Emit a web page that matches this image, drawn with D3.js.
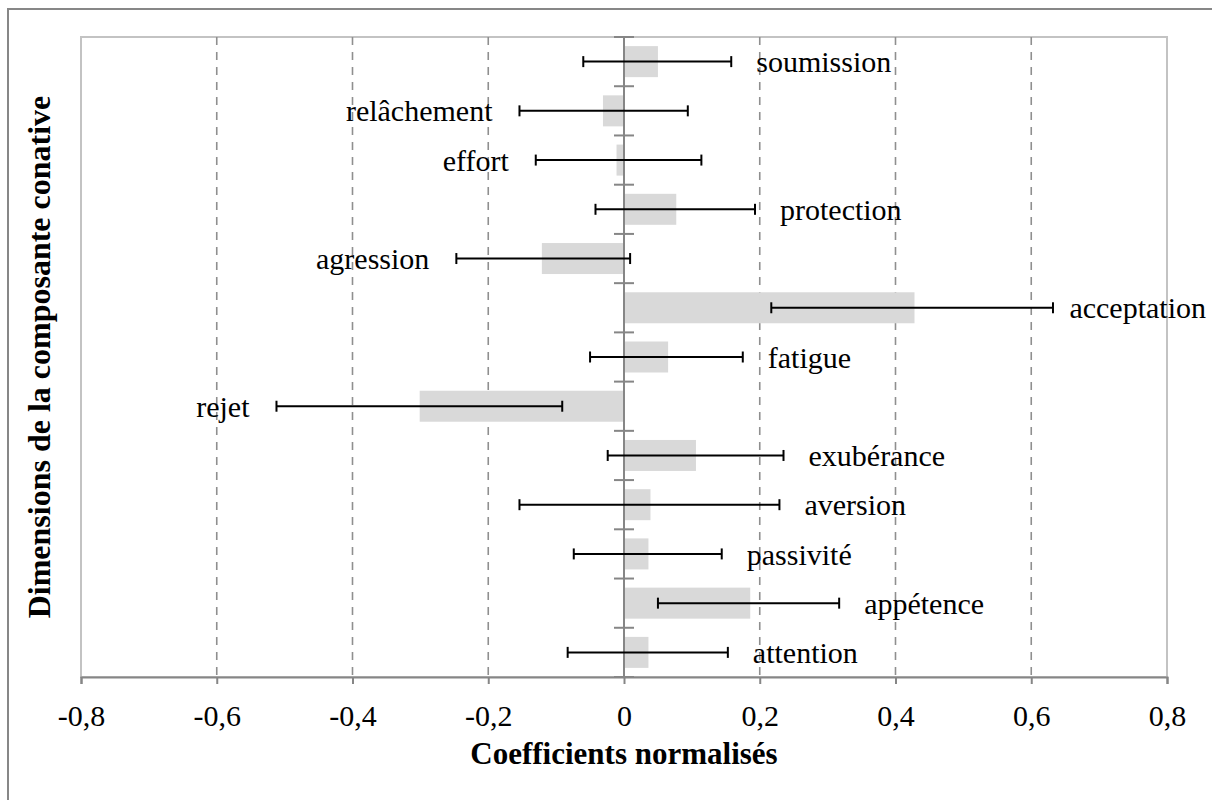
<!DOCTYPE html>
<html>
<head>
<meta charset="utf-8">
<script src="https://cdn.jsdelivr.net/npm/d3@7"></script>
<style>
  html, body { margin: 0; padding: 0; background: #fff; }
  svg { display: block; font-family: "Liberation Serif", "Times New Roman", serif; }
</style>
</head>
<body>
<svg id="chart" width="1212" height="800"></svg>
<script>
// ---- data ----
const categories = ["soumission", "relâchement", "effort", "protection", "agression", "acceptation",
  "fatigue", "rejet", "exubérance", "aversion", "passivité", "appétence", "attention"];
const coefficients = [0.050, -0.031, -0.011, 0.077, -0.121, 0.428, 0.065, -0.301, 0.106, 0.039, 0.036, 0.186, 0.036];
const ciLow  = [-0.060, -0.154, -0.130, -0.042, -0.247, 0.217, -0.050, -0.512, -0.024, -0.154, -0.074, 0.050, -0.083];
const ciHigh = [0.158, 0.094, 0.114, 0.193, 0.009, 0.632, 0.175, -0.091, 0.235, 0.229, 0.144, 0.317, 0.153];
const xTicks = [-0.8, -0.6, -0.4, -0.2, 0, 0.2, 0.4, 0.6, 0.8];
const xTickLabels = ["-0,8", "-0,6", "-0,4", "-0,2", "0", "0,2", "0,4", "0,6", "0,8"];
const xTitle = "Coefficients normalisés";
const yTitle = "Dimensions de la composante conative";

// ---- layout ----
const svg = d3.select("#chart");
const W = 1212;
const plot = { left: 81, right: 1167, top: 37, bottom: 677 };

const x = d3.scaleLinear().domain([-0.8, 0.8]).range([plot.left, plot.right]);
const y = d3.scaleBand().domain(categories).range([plot.top, plot.bottom])
  .paddingInner(0.37).paddingOuter(0.185);

const rows = categories.map((c, i) => ({ cat: c, v: coefficients[i], lo: ciLow[i], hi: ciHigh[i] }));

// outer chart border (right/bottom edges fall outside the view)
svg.append("rect")
  .attr("x", 8).attr("y", 9).attr("width", 1240).attr("height", 840)
  .attr("fill", "none").attr("stroke", "#878787").attr("stroke-width", 2);

// plot area border
svg.append("rect")
  .attr("x", plot.left).attr("y", plot.top)
  .attr("width", plot.right - plot.left).attr("height", plot.bottom - plot.top)
  .attr("fill", "none").attr("stroke", "#c3c3c3").attr("stroke-width", 2);

// dashed gridlines
svg.append("g").selectAll("line")
  .data(xTicks.filter(t => t !== 0 && Math.abs(t) !== 0.8))
  .join("line")
  .attr("x1", d => x(d)).attr("x2", d => x(d))
  .attr("y1", plot.top).attr("y2", plot.bottom)
  .attr("stroke", "#8f8f8f").attr("stroke-width", 1.6)
  .attr("stroke-dasharray", "8,7");

// bars
svg.append("g").selectAll("rect")
  .data(rows)
  .join("rect")
  .attr("x", d => x(Math.min(0, d.v)))
  .attr("width", d => Math.abs(x(d.v) - x(0)))
  .attr("y", d => y(d.cat))
  .attr("height", y.bandwidth())
  .attr("fill", "#d9d9d9");

// x axis
const xAxis = d3.axisBottom(x).tickValues(xTicks)
  .tickFormat((d, i) => xTickLabels[i]).tickSize(7);
const gx = svg.append("g").attr("transform", `translate(0,${plot.bottom})`).call(xAxis);
gx.select(".domain").attr("stroke", "#868686").attr("stroke-width", 2);
gx.selectAll(".tick line").attr("stroke", "#868686").attr("stroke-width", 2);
gx.selectAll(".tick text")
  .attr("font-family", "Liberation Serif, Times New Roman, serif")
  .attr("font-size", 30).attr("fill", "#000")
  .attr("y", 49).attr("dy", 0);

// y axis at zero with crossing ticks at category boundaries
const boundaries = categories.map(c => y(c) - y.step() * y.paddingInner() / 2)
  .concat([plot.bottom]);
svg.append("line")
  .attr("x1", x(0)).attr("x2", x(0)).attr("y1", plot.top).attr("y2", plot.bottom)
  .attr("stroke", "#868686").attr("stroke-width", 2);
svg.append("g").selectAll("line")
  .data(boundaries)
  .join("line")
  .attr("x1", x(0) - 10).attr("x2", x(0) + 10)
  .attr("y1", d => d).attr("y2", d => d)
  .attr("stroke", "#868686").attr("stroke-width", 2);

// error bars
const eb = svg.append("g").attr("stroke", "#000").attr("stroke-width", 2);
const cy = d => y(d.cat) + y.bandwidth() / 2;
eb.selectAll("line.h").data(rows).join("line").attr("class", "h")
  .attr("x1", d => x(d.lo)).attr("x2", d => x(d.hi))
  .attr("y1", cy).attr("y2", cy);
eb.selectAll("line.l").data(rows).join("line").attr("class", "l")
  .attr("x1", d => x(d.lo)).attr("x2", d => x(d.lo))
  .attr("y1", d => cy(d) - 5.5).attr("y2", d => cy(d) + 5.5);
eb.selectAll("line.r").data(rows).join("line").attr("class", "r")
  .attr("x1", d => x(d.hi)).attr("x2", d => x(d.hi))
  .attr("y1", d => cy(d) - 5.5).attr("y2", d => cy(d) + 5.5);

// category labels (placed beyond the error-bar end; kept inside the frame)
svg.append("g").selectAll("text")
  .data(rows)
  .join("text")
  .attr("y", d => cy(d) + 1)
  .attr("dy", "0.32em")
  .attr("text-anchor", d => d.v >= 0 ? "start" : "end")
  .attr("font-size", 30).attr("fill", "#000")
  .text(d => d.cat)
  .attr("x", function (d) {
    if (d.v < 0) return x(d.lo) - 27;
    const w = this.getComputedTextLength();
    return Math.min(x(d.hi) + 25, W - 6 - w);
  });

// axis titles
svg.append("text")
  .attr("x", x(0)).attr("y", 764)
  .attr("text-anchor", "middle")
  .attr("font-size", 31).attr("font-weight", "bold")
  .text(xTitle);

svg.append("text")
  .attr("transform", `translate(50,${(plot.top + plot.bottom) / 2}) rotate(-90)`)
  .attr("text-anchor", "middle")
  .attr("font-size", 32).attr("font-weight", "bold")
  .text(yTitle);
</script>
</body>
</html>
